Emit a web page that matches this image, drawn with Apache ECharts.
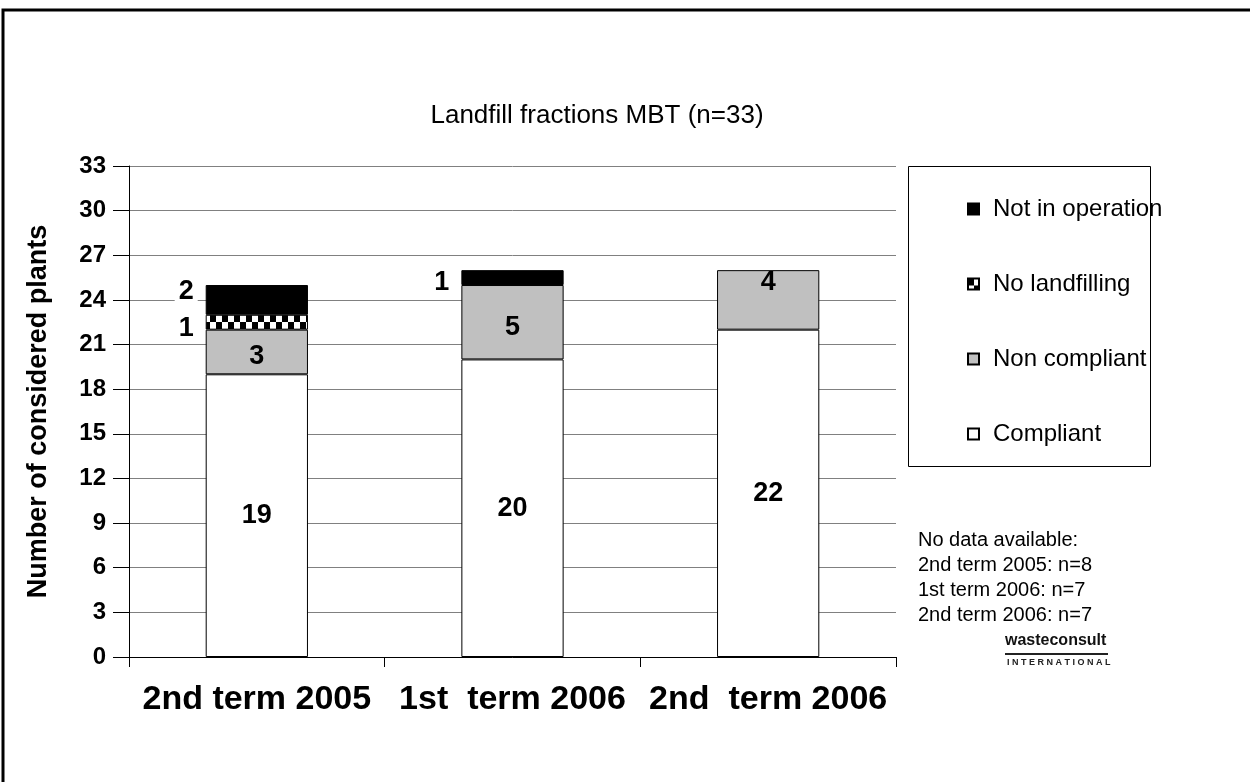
<!DOCTYPE html>
<html>
<head>
<meta charset="utf-8">
<script src="https://cdn.jsdelivr.net/npm/echarts@6/dist/echarts.min.js"></script>
<style>html,body{margin:0;padding:0;background:#fff}#c{width:1250px;height:782px}</style>
</head>
<body>
<div id="c"></div>
<script>
var categories = ['2nd term 2005', '1st  term 2006', '2nd  term 2006'];
var compliant = [19, 20, 22];
var nonCompliant = [3, 5, 4];
var noLandfilling = [1, null, null];
var notInOperation = [2, 1, null];
var yTicks = [0, 3, 6, 9, 12, 15, 18, 21, 24, 27, 30, 33];
var noteLines = ['No data available:', '2nd term 2005: n=8', '1st term 2006: n=7', '2nd term 2006: n=7'];

var FONT = "'Liberation Sans', Arial, sans-serif";

// checker pattern
var pc = document.createElement('canvas');
pc.width = 12; pc.height = 14;
var g = pc.getContext('2d');
g.fillStyle = '#fff'; g.fillRect(0, 0, 12, 14);
g.fillStyle = '#000';
g.fillRect(0, 0, 6, 7); g.fillRect(6, 7, 6, 7);
var checker = { image: pc, repeat: 'repeat' };

var chart = echarts.init(document.getElementById('c'), null, { renderer: 'canvas' });

var sideLabel = function (offY) {
  return {
    show: true, position: 'left', distance: 8, offset: [0, offY],
    color: '#000', fontFamily: FONT, fontWeight: 'bold', fontSize: 27,
    backgroundColor: '#fff', padding: [0, 4, 0, 4]
  };
};
var inLabel = { show: true, position: 'inside', color: '#000', fontFamily: FONT, fontWeight: 'bold', fontSize: 27 };

var option = {
  animation: false,
  backgroundColor: '#fff',
  title: {
    text: 'Landfill fractions MBT (n=33)',
    left: 592, top: 98, textAlign: 'center',
    textStyle: { fontFamily: FONT, fontWeight: 'normal', fontSize: 26, color: '#000' }
  },
  grid: { left: 129, right: 354, top: 166, bottom: 125, containLabel: false },
  legend: {
    orient: 'vertical', left: 962, top: 192,
    itemWidth: 11, itemHeight: 11, itemGap: 51,
    data: ['Not in operation', 'No landfilling', 'Non compliant', 'Compliant'],
    textStyle: { fontFamily: FONT, fontSize: 24, color: '#000', lineHeight: 24, padding: [0, 0, 0, 9] },
    icon: 'rect'
  },
  xAxis: {
    type: 'category', data: categories,
    axisLine: { lineStyle: { color: '#000', width: 1 } },
    axisTick: { show: true, length: 10, lineStyle: { color: '#000' }, alignWithLabel: false },
    axisLabel: { interval: 0, margin: 26, color: '#000', fontFamily: FONT, fontWeight: 'bold', fontSize: 34 },
    splitLine: { show: false }
  },
  yAxis: {
    type: 'value', min: 0, max: 33, interval: 3,
    name: 'Number of considered plants', nameLocation: 'middle', nameGap: 77, nameRotate: 90,
    nameTextStyle: { fontFamily: FONT, fontWeight: 'bold', fontSize: 27, color: '#000' },
    axisLine: { show: true, lineStyle: { color: '#000', width: 1 } },
    axisTick: { show: true, length: 16, lineStyle: { color: '#000' } },
    axisLabel: {
      margin: 23, color: '#000', fontFamily: FONT, fontWeight: 'bold', fontSize: 24,
      formatter: function (v) { return yTicks.indexOf(v) >= 0 ? String(v) : ''; }
    },
    splitLine: { show: true, lineStyle: { color: '#808080', width: 1 } }
  },
  series: [
    {
      name: 'Compliant', type: 'bar', stack: 'a', barWidth: '40%',
      itemStyle: { color: '#fff', borderColor: '#000', borderWidth: 1 },
      label: inLabel,
      data: compliant
    },
    {
      name: 'Non compliant', type: 'bar', stack: 'a',
      itemStyle: { color: '#c0c0c0', borderColor: '#000', borderWidth: 1 },
      label: inLabel,
      data: nonCompliant.map(function (v, i) {
        var offs = [5, 5, -17];
        return { value: v, label: { offset: [0, offs[i]] } };
      })
    },
    {
      name: 'No landfilling', type: 'bar', stack: 'a',
      itemStyle: { color: checker, borderColor: '#000', borderWidth: 1 },
      label: sideLabel(6),
      data: noLandfilling
    },
    {
      name: 'Not in operation', type: 'bar', stack: 'a',
      itemStyle: { color: '#000', borderColor: '#000', borderWidth: 1 },
      label: sideLabel(0),
      data: notInOperation.map(function (v, i) {
        var offs = [-8, 5, 0];
        return { value: v, label: { offset: [0, offs[i]] } };
      })
    }
  ],
  graphic: [
    { type: 'rect', shape: { x: 3, y: 10, width: 1300, height: 800 }, style: { fill: 'none', stroke: '#000', lineWidth: 3 }, silent: true, z: 100 },
    { type: 'rect', shape: { x: 908.5, y: 166.5, width: 242, height: 300 }, style: { fill: 'none', stroke: '#000', lineWidth: 1 }, silent: true },
    { type: 'text', left: 918, top: 528, style: { text: noteLines.join('\n'), font: '20px ' + FONT, fill: '#000', lineHeight: 25 } },
    { type: 'text', left: 1005, top: 633, style: { text: 'wasteconsult', font: 'bold 16px ' + FONT, fill: '#111' } },
    { type: 'rect', left: 1005, top: 653, shape: { width: 103, height: 2 }, style: { fill: '#222' } },
    { type: 'text', left: 1007, top: 658, style: { text: 'I N T E R N A T I O N A L', font: 'bold 9px ' + FONT, fill: '#222' } }
  ]
};
chart.setOption(option);
</script>
</body>
</html>
